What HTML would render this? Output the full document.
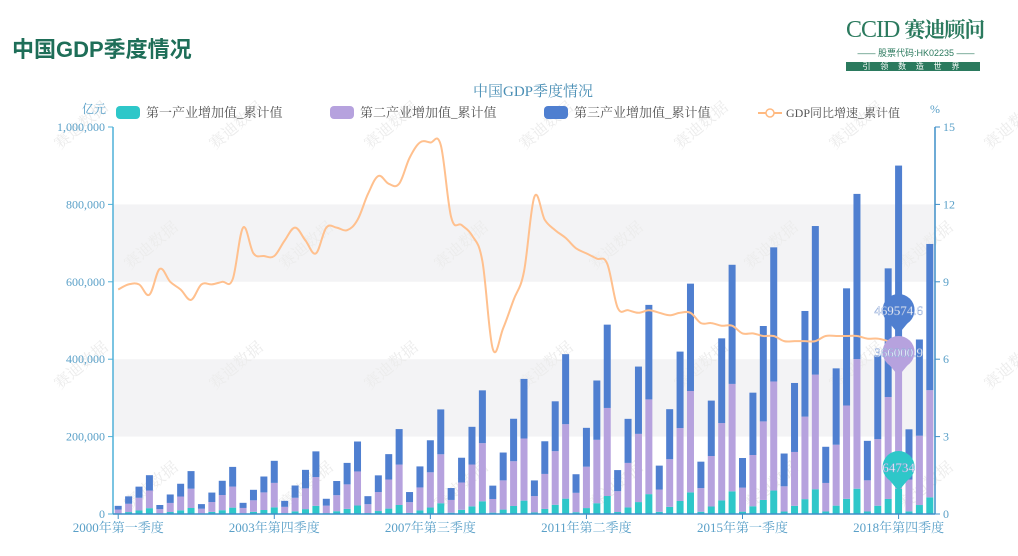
<!DOCTYPE html>
<html><head><meta charset="utf-8">
<style>
body{margin:0;width:1018px;height:556px;overflow:hidden;background:#fff;font-family:"Liberation Serif","Noto Serif CJK SC",serif;}
#wrap{position:relative;width:1018px;height:556px;}
.hdr{position:absolute;left:12px;top:32px;font:bold 22px "Liberation Sans","Noto Sans CJK SC",sans-serif;color:#1e6e58;}
.logo{position:absolute;left:846px;top:14px;width:140px;color:#2b7a5e;}
</style></head><body>
<div id="wrap">
<div class="hdr">中国GDP季度情况</div>
<div class="logo">
  <div style="font:24px 'Liberation Serif','Noto Serif CJK SC',serif;letter-spacing:-1px;white-space:nowrap"><span style="font-weight:300">CCID</span> <span style="font-weight:bold;font-size:21px">赛迪顾问</span></div>
  <div style="font:9px 'Liberation Sans','Noto Sans CJK SC',sans-serif;text-align:center;margin-top:2px;white-space:nowrap">—— 股票代码:HK02235 ——</div>
  <div style="background:#2b7a5e;color:#fff;font:8px 'Noto Sans CJK SC',sans-serif;text-align:center;height:9px;line-height:9px;margin-top:3px;letter-spacing:4px;width:134px">引 领 数 造 世 界</div>
</div>
<svg id="chart" width="1018" height="556" style="position:absolute;left:0;top:0"></svg>
</div>
<script>
const categories=[];
const years=[2000,2001,2002,2003,2004,2005,2006,2007,2008,2009,2010,2011,2012,2013,2014,2015,2016,2017,2018,2019];
const qn=['第一季度','第二季度','第三季度','第四季度'];
years.forEach(y=>qn.forEach((q,i)=>{if(!(y===2019&&i>2))categories.push(y+'年'+q);}));
const primary=[1504,4964,9025,15042,1552,5122,9313,15521,1643,5423,9859,16432,1718,5669,10307,17178,2104,6943,12623,21039,2192,7232,13150,21916,2326,7676,13957,23261,2783,9185,16700,27834,3291,10860,19746,32910,3456,11404,20735,34559,3965,13085,23791,39651,4648,15340,27890,46484,5134,16941,30801,51335,5595,18464,33572,55953,5860,19339,35161,58602,6064,20010,36382,60637,6400,21118,38397,63995,6534,21563,39206,65343,6473,21362,38840,64734,6775,23207,43005];
const secondary=[10038,21445,32851,45627,10975,23447,35919,49888,11970,25572,39174,54408,13907,29711,45514,63214,16378,34990,53601,74446,19369,41379,63389,88040,22980,49093,75206,104453,27823,59440,91058,126469,33038,70581,108125,150173,35327,75471,115615,160577,42344,90462,138580,192472,50056,106937,163818,227525,53853,115049,176246,244786,57620,123096,188573,261907,61062,130450,199838,277553,62001,132456,202912,281822,65156,139197,213237,296163,73696,157442,241188,334984,80520,172020,263521,366000.9,82346,179122,276912];
const tertiary=[9517,19218,28821,39611,10754,21874,32926,45454,11948,24386,36777,50877,13234,27147,41062,57030,15504,31704,47873,66355,17776,36619,55521,77363,20776,43076,65541,91725,26143,54331,82756,115929,30769,63939,97388,136433,34524,71957,109752,153945,40427,84382,128815,180907,48049,100355,153249,215292,54490,113877,173912,244246,61786,129276,197502,277384,68313,143219,218903,307819,76636,161053,246488,346593,84711,178263,272976,383969,93466,197336,302727,426795,102072,216259,332357,469574.6,129703,248604,377881];
const growth=[8.7,8.9,8.9,8.5,9.5,9.0,8.7,8.3,8.9,8.9,9.0,9.1,11.1,10.1,10.0,10.0,10.6,11.1,10.6,10.1,11.1,11.1,11.0,11.4,12.4,13.1,12.8,12.8,13.8,14.4,14.4,14.3,11.5,11.2,10.8,9.8,6.4,7.2,8.3,9.4,12.3,11.4,11.0,10.7,10.3,10.1,9.9,9.7,8.0,7.9,7.8,7.9,7.8,7.7,7.8,7.8,7.4,7.4,7.3,7.3,7.0,7.0,6.9,6.9,6.7,6.7,6.7,6.7,6.9,6.9,6.9,6.9,6.8,6.8,6.7,6.6];
const leftTicks=['0','200,000','400,000','600,000','800,000','1,000,000'];
const rightTicks=['0','3','6','9','12','15'];
const xTickIdx=[0,15,30,45,60,75];

const NS='http://www.w3.org/2000/svg';
const svg=document.getElementById('chart');
const X0=113,X1=935,Y0=514,Y1=127;
const band=(X1-X0)/categories.length;
const xc=i=>X0+band*(i+0.5);
const yL=v=>Y0-(v/1000000)*(Y0-Y1);
const yR=v=>Y0-(v/15)*(Y0-Y1);
function el(tag,attrs,parent){const e=document.createElementNS(NS,tag);for(const k in attrs)e.setAttribute(k,attrs[k]);(parent||svg).appendChild(e);return e;}
const F='"Liberation Serif","Noto Serif CJK SC",serif';

for(let k=0;k<5;k++){
  if(k%2===1){const r=el('rect',{x:X0,y:yL((k+1)*200000),width:X1-X0,height:yL(k*200000)-yL((k+1)*200000),fill:'#f3f3f5'});
  
  }
}
for(let r=0;r<4;r++)for(let c=0;c<7;c++){
  const wx=60+c*155+(r%2)*70, wy=150+r*120;
  const t=el('text',{x:wx,y:wy,transform:`rotate(-40 ${wx} ${wy})`,fill:'#ececec','font-size':16,'font-family':F});
  t.textContent='赛迪数据';
  
  
}
const tt=el('text',{x:533,y:96,'text-anchor':'middle',fill:'#4a8fb5','font-size':15,'font-family':F});
tt.textContent='中国GDP季度情况';


const legend=[['第一产业增加值_累计值','#2ec7c9',116],['第二产业增加值_累计值','#b6a2de',330],['第三产业增加值_累计值','#4f7fd0',544]];
legend.forEach(([name,col,lx])=>{
  const g=el('g',{});
  
  
  el('rect',{x:lx,y:106,width:24,height:13,rx:4,fill:col},g);
  const t=el('text',{x:lx+30,y:117,fill:'#555','font-size':13,'font-family':F},g);t.textContent=name;
});
{const g=el('g',{});


el('line',{x1:758,y1:113,x2:782,y2:113,stroke:'#ffb980','stroke-width':2},g);
el('circle',{cx:770,cy:113,r:4,fill:'#fff',stroke:'#ffb980','stroke-width':1.5},g);
const t=el('text',{x:786,y:117,fill:'#555','font-size':12,'font-family':F},g);t.textContent='GDP同比增速_累计值';}
const u1=el('text',{x:106,y:113,'text-anchor':'end',fill:'#5aa0c8','font-size':12,'font-family':F});u1.textContent='亿元';

const u2=el('text',{x:930,y:113,fill:'#5aa0c8','font-size':12,'font-family':F});u2.textContent='%';


const bw=7;
categories.forEach((c,i)=>{
  const g=el('g',{});
  
  
  let base=0;
  [[primary[i],'#2ec7c9'],[secondary[i],'#b6a2de'],[tertiary[i],'#4f7fd0']].forEach(([v,col])=>{
    const yt=yL(base+v),yb=yL(base);
    el('rect',{x:xc(i)-bw/2,y:yt,width:bw,height:Math.max(0,yb-yt),fill:col},g);
    base+=v;
  });
});
// smooth line (cardinal spline)
const pts=growth.map((v,i)=>[xc(i),yR(v)]);
let d='M'+pts[0][0].toFixed(1)+' '+pts[0][1].toFixed(1);
const tns=0.18;
for(let i=0;i<pts.length-1;i++){
  const p0=pts[Math.max(0,i-1)],p1=pts[i],p2=pts[i+1],p3=pts[Math.min(pts.length-1,i+2)];
  const c1=[p1[0]+(p2[0]-p0[0])*tns,p1[1]+(p2[1]-p0[1])*tns];
  const c2=[p2[0]-(p3[0]-p1[0])*tns,p2[1]-(p3[1]-p1[1])*tns];
  d+=` C${c1[0].toFixed(1)} ${c1[1].toFixed(1)} ${c2[0].toFixed(1)} ${c2[1].toFixed(1)} ${p2[0].toFixed(1)} ${p2[1].toFixed(1)}`;
}
const ln=el('path',{d:d,fill:'none',stroke:'#ffc08e','stroke-width':2,'stroke-linejoin':'round'});



const axL=el('line',{x1:X0,y1:Y1,x2:X0,y2:Y0,stroke:'#4fb0d8','stroke-width':1.5});

const axR=el('line',{x1:X1,y1:Y1,x2:X1,y2:Y0,stroke:'#3f8fc8','stroke-width':1.5});

const axX=el('line',{x1:X0,y1:Y0,x2:X1,y2:Y0,stroke:'#3f8fc8','stroke-width':1.5});

leftTicks.forEach((t,k)=>{
  const y=yL(k*200000);
  el('line',{x1:X0-5,y1:y,x2:X0,y2:y,stroke:'#4fb0d8'});
  const tx=el('text',{x:X0-8,y:y+4,'text-anchor':'end',fill:'#5aa0c8','font-size':12,'font-family':F});tx.textContent=t;
  
});
rightTicks.forEach((t,k)=>{
  const y=yR(k*3);
  el('line',{x1:X1,y1:y,x2:X1+5,y2:y,stroke:'#3f8fc8'});
  const tx=el('text',{x:X1+8,y:y+4,fill:'#5aa0c8','font-size':12,'font-family':F});tx.textContent=t;
  
});
xTickIdx.forEach(i=>{
  const x=xc(i);
  el('line',{x1:x,y1:Y0,x2:x,y2:Y0+5,stroke:'#3f8fc8'});
  const tx=el('text',{x:x,y:Y0+18,'text-anchor':'middle',fill:'#5aa0c8','font-size':13,'font-family':F});tx.textContent=categories[i];
  
});
const mi=75;
[['#4f7fd0',310,'469574.6'],['#b6a2de',352,'366000.9'],['#2ec7c9',467,'64734']].forEach(([col,cy,lab])=>{
  const g=el('g',{});
  
  
  const cx=xc(mi);
  el('circle',{cx:cx,cy:cy,r:16,fill:col},g);
  el('path',{d:`M${cx-10} ${cy+12} L${cx} ${cy+24} L${cx+10} ${cy+12}Z`,fill:col},g);
  const t=el('text',{x:cx,y:cy+5,'text-anchor':'middle',fill:'#ffffff','font-size':13,'font-family':F,stroke:'#8fa9d8','stroke-width':0.4},g);t.textContent=lab;
});
</script>
</body></html>
